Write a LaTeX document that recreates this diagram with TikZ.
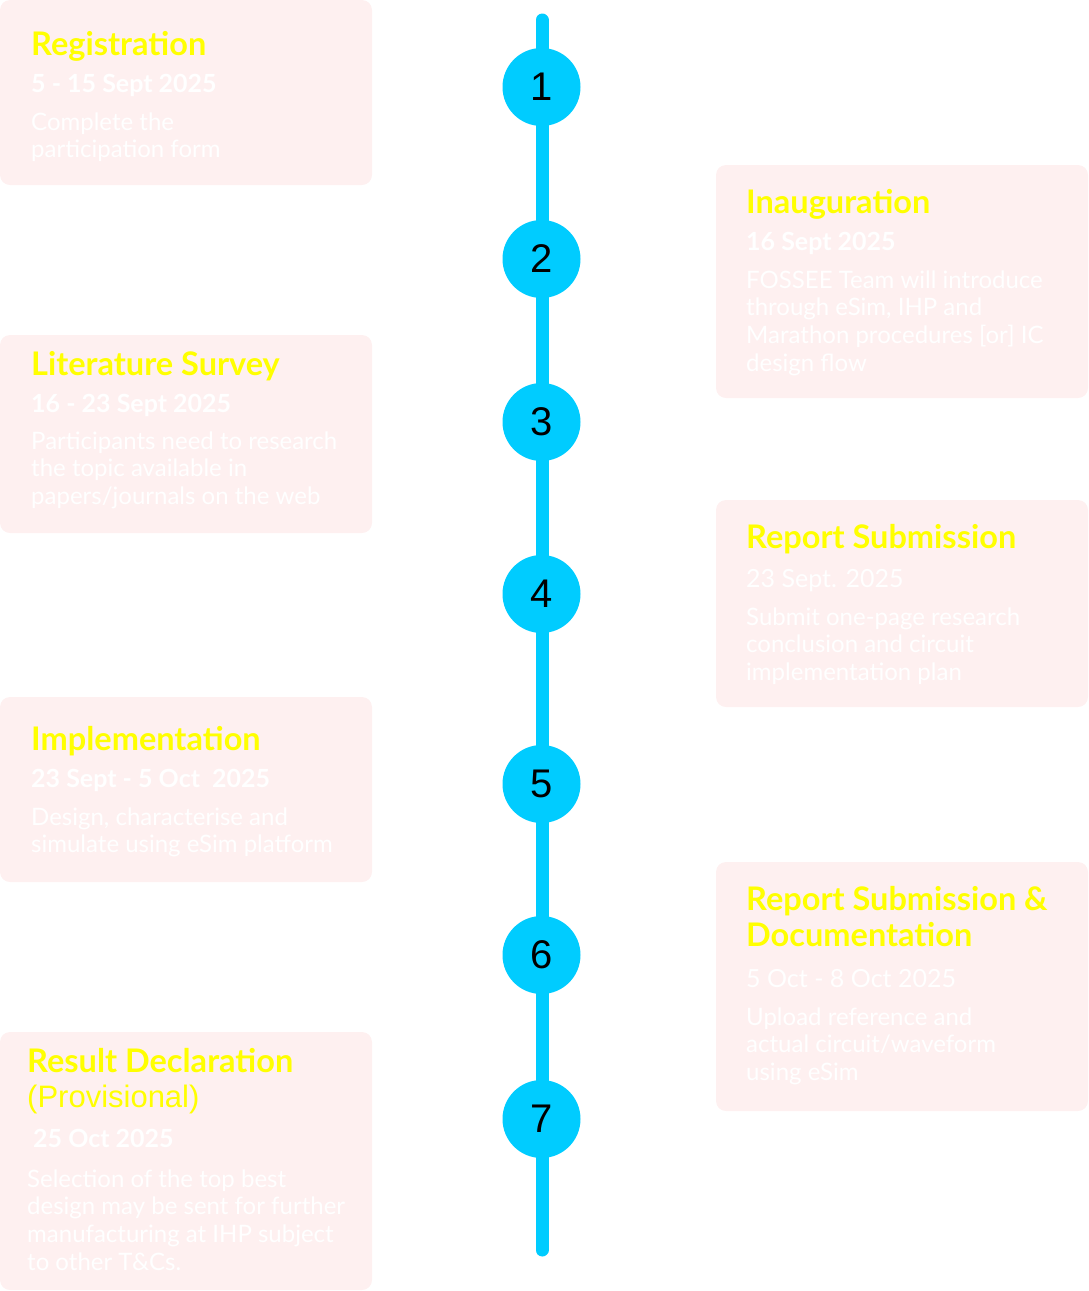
\documentclass[tikz,border=0pt]{standalone}
\usepackage{fontspec}
\setmainfont{Lato}
\newfontfamily\numfont{Liberation Sans}
\definecolor{cardpink}{RGB}{254,240,240}
\definecolor{stepcyan}{RGB}{0,204,255}
\definecolor{headyellow}{RGB}{255,255,0}

\tikzset{
  card/.style={fill=cardpink, rounded corners=10pt},
  cardtitle/.style={anchor=base west, inner sep=0pt, text=headyellow,
    font=\fontsize{32.5}{36}\selectfont\bfseries},
  cardsub/.style={anchor=base west, inner sep=0pt, text=headyellow,
    font=\numfont\fontsize{31}{36}\selectfont},
  carddate/.style={anchor=base west, inner sep=0pt, text=white,
    font=\fontsize{25}{28}\selectfont\bfseries},
  carddatelight/.style={anchor=base west, inner sep=0pt, text=white,
    font=\fontsize{25}{28}\selectfont},
  cardbody/.style={anchor=base west, inner sep=0pt, text=white,
    font=\fontsize{24}{27.7}\selectfont},
  stepdot/.style={circle, fill=stepcyan, minimum size=78pt, inner sep=0pt,
    font=\numfont\fontsize{40}{40}\selectfont},
  spine/.style={draw=stepcyan, line width=13pt, line cap=round}
}

\begin{document}
\begin{tikzpicture}[x=1pt, y=-1pt]
  \useasboundingbox (0,0) rectangle (1088,1291);

  % cards
  \path[card] (0,0) rectangle (372,185);
  \path[card] (716,165) rectangle (1088,398);
  \path[card] (0,335) rectangle (372,533);
  \path[card] (716,500) rectangle (1088,707);
  \path[card] (0,697) rectangle (372,882);
  \path[card] (716,862) rectangle (1088,1111);
  \path[card] (0,1032) rectangle (372,1290);

  % timeline spine
  \coordinate (top) at (542,20);
  \coordinate (bottom) at (542,1250);
  \draw[spine] (top) -- (bottom);

  % step markers
  \node[stepdot] (s1) at (541.5,87) {1};
  \node[stepdot] (s2) at (541.5,259) {2};
  \node[stepdot] (s3) at (541.5,422) {3};
  \node[stepdot] (s4) at (541.5,594) {4};
  \node[stepdot] (s5) at (541.5,784) {5};
  \node[stepdot] (s6) at (541.5,955) {6};
  \node[stepdot] (s7) at (541.5,1119) {7};

  % 1: Registration
  \node[cardtitle] (t1) at (31,55) {Registration};
  \node[carddate] (d1) at (31,92) {5 - 15 Sept 2025};
  \node[cardbody] (b1) at (31,130) {\vtop{\hbox{Complete the}\hbox{participation form}}};

  % 2: Inauguration
  \node[cardtitle] (t2) at (746,213) {Inauguration};
  \node[carddate] (d2) at (746,250) {16 Sept 2025};
  \node[cardbody] (b2) at (746,288) {\vtop{\hbox{FOSSEE Team will introduce}\hbox{through eSim, IHP and}\hbox{Marathon procedures [or] IC}\hbox{design flow}}};

  % 3: Literature Survey
  \node[cardtitle] (t3) at (31,375) {Literature Survey};
  \node[carddate] (d3) at (31,412) {16 - 23 Sept 2025};
  \node[cardbody] (b3) at (31,449) {\vtop{\hbox{Participants need to research}\hbox{the topic available in}\hbox{papers/journals on the web}}};

  % 4: Report Submission
  \node[cardtitle] (t4) at (746,548) {Report Submission};
  \node[carddatelight] (d4) at (746,587) {23 Sept. 2025};
  \node[cardbody] (b4) at (746,625) {\vtop{\hbox{Submit one-page research}\hbox{conclusion and circuit}\hbox{implementation plan}}};

  % 5: Implementation
  \node[cardtitle] (t5) at (31,750) {Implementation};
  \node[carddate] (d5) at (31,787) {23 Sept - 5 Oct\ \ 2025};
  \node[cardbody] (b5) at (31,825) {\vtop{\hbox{Design, characterise and}\hbox{simulate using eSim platform}}};

  % 6: Report Submission & Documentation
  \node[cardtitle] (t6) at (746,910) {\vtop{\hbox{Report Submission \&}\hbox{Documentation}}};
  \node[carddatelight] (d6) at (746,987) {5 Oct - 8 Oct 2025};
  \node[cardbody] (b6) at (746,1025) {\vtop{\hbox{Upload reference and}\hbox{actual circuit/waveform}\hbox{using eSim}}};

  % 7: Result Declaration
  \node[cardtitle] (t7) at (27,1072) {Result Declaration};
  \node[cardsub] (p7) at (27,1107) {(Provisional)};
  \node[carddate] (d7) at (33,1147) {25 Oct 2025};
  \node[cardbody] (b7) at (27,1187) {\vtop{\hbox{Selection of the top best}\hbox{design may be sent for further}\hbox{manufacturing at IHP subject}\hbox{to other T\&Cs.}}};
\end{tikzpicture}
\end{document}
